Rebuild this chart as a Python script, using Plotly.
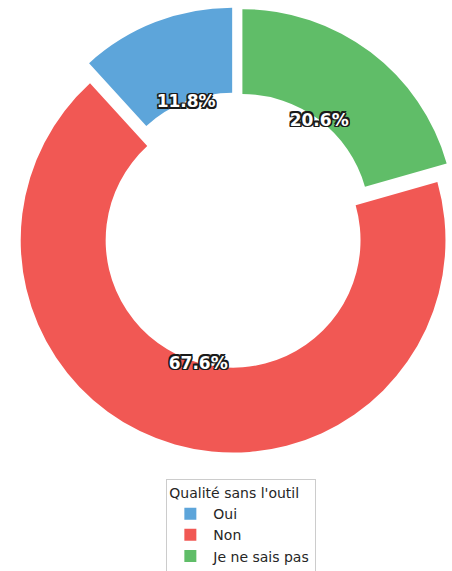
import math
import plotly.graph_objects as go

# data
labels = ["Oui", "Non", "Je ne sais pas"]
counts = [4, 23, 7]
colors = ["#5DA5DA", "#F15854", "#60BD68"]
legend_title = "Qualité sans l'outil"

explode = 0.05        # matplotlib-like explode, fraction of the radius
pct_distance = 0.6    # labels sit on the inner edge of the ring

total = sum(counts)
# plotly's counterclockwise mode puts the first slice clockwise of 12 o'clock,
# so turn it back by its own angle to start at 12 o'clock like matplotlib does
start = -360 * counts[0] / total

# plotly centres horizontal inside text on the inscribed circle of each slice.
# Size a second, invisible ring so that centre falls at pct_distance for every slice.
half = math.pi * min(counts) / total
r_ins = math.sin(half) / (1 + math.sin(half))
lbl_hole = 1 - 2 * r_ins
k = pct_distance / (1 - r_ins)                 # label ring radius / main radius
lbl_pull = explode / k
shrink = (k + explode) / (1 + explode)          # label domain / main domain
lo, hi = 0.5 - shrink / 2, 0.5 + shrink / 2

edge = "#1a1a1a"
outline = ", ".join(f"{dx}px {dy}px 0 {edge}" for dx, dy in
                    [(-1.5, -1.5), (1.5, -1.5), (-1.5, 1.5), (1.5, 1.5),
                     (0, -1.5), (0, 1.5), (-1.5, 0), (1.5, 0)])

fig = go.Figure()

# the donut itself
fig.add_trace(go.Pie(
    labels=labels,
    values=counts,
    hole=0.6,
    sort=False,
    direction="counterclockwise",
    rotation=start,
    pull=[explode] * len(counts),
    marker=dict(colors=colors, line=dict(width=0)),
    textinfo="none",
    hoverinfo="label+percent",
    domain=dict(x=[0, 1], y=[0, 1]),
))

# invisible ring carrying the percentages
fig.add_trace(go.Pie(
    labels=labels,
    values=counts,
    hole=lbl_hole,
    sort=False,
    direction="counterclockwise",
    rotation=start,
    pull=[lbl_pull] * len(counts),
    marker=dict(colors=["rgba(0,0,0,0)"] * len(counts), line=dict(width=0)),
    texttemplate="%{percent:.1%}",
    textposition="inside",
    insidetextorientation="horizontal",
    textfont=dict(family="DejaVu Sans", size=17, color="white",
                  weight="bold", shadow=outline),
    showlegend=False,
    hoverinfo="skip",
    domain=dict(x=[lo, hi], y=[lo, hi]),
))

fig.update_layout(
    width=460,
    height=571,
    margin=dict(l=13, r=1, t=7, b=118, autoexpand=False),
    paper_bgcolor="white",
    plot_bgcolor="white",
    font=dict(family="DejaVu Sans", color="#262626"),
    legend=dict(
        title=dict(text=legend_title, font=dict(size=14)),
        font=dict(size=14),
        itemwidth=36,
        x=0.512, xanchor="center",
        y=-0.058, yanchor="top",
        bgcolor="white",
        bordercolor="#cccccc",
        borderwidth=1,
    ),
)

fig.write_html("out.html", config={"displayModeBar": False},
               post_script="document.body.style.margin = '0';")
